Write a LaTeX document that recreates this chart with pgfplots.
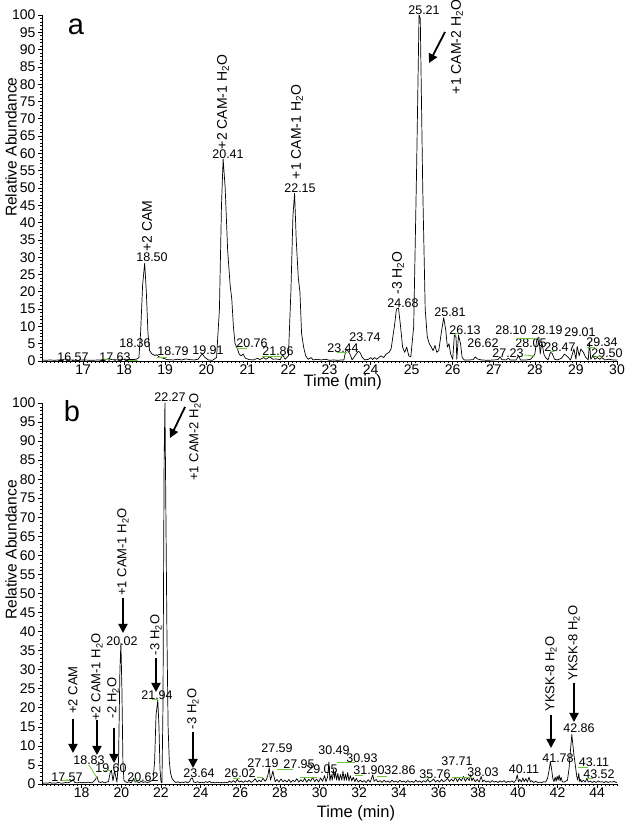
\documentclass[border=0pt]{standalone}
\usepackage{fontspec}
\setmainfont{Liberation Sans}
\usepackage{pgfplots}
\pgfplotsset{compat=1.18}
\usetikzlibrary{arrows.meta}
\definecolor{lblgreen}{RGB}{110,200,60}
\newcommand{\fs}[1]{\fontsize{#1}{#1}\selectfont}
\newcommand{\HH}{H\textsubscript{2}O}
\begin{document}
\begin{tikzpicture}
\useasboundingbox (0,0) rectangle (625pt,821pt);
\pgfplotsset{
  chrom/.style={
    scale only axis, width=575pt, anchor=south west,
    axis x line=bottom, axis y line=left,
    axis line style={-, line width=0.7pt},
    tick align=outside, major tick length=4pt, minor tick length=2pt,
    every tick/.style={line width=0.6pt, black},
    ymin=0, ymax=100, ytick={0,5,...,100}, minor ytick={0,1,...,100},
    every tick label/.append style={font=\fs{14}},
    xticklabel style={yshift=3.5pt},
    yticklabel style={xshift=1pt},
    /pgf/number format/assume math mode=true,
    clip=false,
    ylabel={Relative Abundance},
    xlabel={Time (min)},
  }
}
% ---------------- panel a ----------------
\begin{axis}[chrom, at={(42pt,460pt)}, height=346pt,
  xmin=16, xmax=30, xtick={17,...,30}, minor xtick={16,16.1,...,30},
  xlabel style={at={(axis description cs:0.523,-0.062)}, anchor=center, font=\fs{16.5}},
  ylabel style={at={(axis description cs:-0.054,0.618)}, anchor=center, font=\fs{15.6}}]
\addplot[black, line width=0.7pt, line join=round] coordinates {
(16.00,0.3)(16.10,0.2)(16.20,0.3)(16.30,0.2)(16.40,0.3)(16.50,0.4)(16.57,0.6)(16.65,0.3)
(16.80,0.2)(17.00,0.3)(17.20,0.2)(17.40,0.3)(17.55,0.4)(17.63,0.7)(17.70,0.4)(17.85,0.3)
(18.00,0.5)(18.20,0.4)(18.30,0.5)(18.36,1.0)(18.40,8)(18.45,22)(18.50,28.3)(18.54,20)
(18.58,8)(18.62,3)(18.68,2)(18.75,1.6)(18.79,1.8)(18.85,1.2)(18.95,0.8)(19.05,0.4)
(19.20,0.3)(19.30,0.5)(19.40,0.3)(19.50,0.6)(19.60,0.4)(19.70,0.3)(19.80,0.5)(19.88,1.8)
(19.91,1.9)(19.97,1.0)(20.05,0.3)(20.15,0.2)(20.25,1.0)(20.32,15)(20.37,45)(20.41,58.4)
(20.46,50)(20.52,32)(20.58,22)(20.62,18)(20.66,10)(20.70,5)(20.76,3.5)(20.80,2.0)
(20.85,1.5)(20.90,2.0)(20.95,0.8)(21.05,0.4)(21.15,0.3)(21.25,0.8)(21.30,0.4)(21.40,1.0)
(21.45,0.5)(21.55,1.2)(21.62,0.5)(21.70,0.6)(21.80,0.4)(21.86,1.8)(21.92,0.5)(22.00,1.5)
(22.06,20)(22.11,42)(22.15,48.5)(22.19,35)(22.24,24)(22.28,20)(22.32,8)(22.37,4)
(22.42,1.5)(22.48,0.5)(22.55,1.0)(22.60,0.3)(22.70,0.5)(22.80,0.3)(22.90,0.5)(23.00,0.2)
(23.10,0.3)(23.20,0.2)(23.30,0.3)(23.35,0.3)(23.40,3.2)(23.44,3.0)(23.50,2.0)(23.55,0.3)
(23.62,1.5)(23.70,2.8)(23.74,2.5)(23.80,1.0)(23.86,0.3)(23.95,0.5)(24.00,1.0)(24.05,0.4)
(24.10,1.0)(24.15,0.5)(24.25,1.5)(24.32,1.0)(24.38,2.0)(24.45,2.5)(24.50,3.5)(24.58,10)
(24.63,15)(24.68,15.3)(24.73,10)(24.78,4)(24.83,2.5)(24.88,4)(24.93,1.5)(24.98,1.2)
(25.05,10)(25.12,55)(25.18,100)(25.21,99)(25.27,50)(25.33,15)(25.38,7)(25.43,5)
(25.48,4)(25.52,3)(25.57,4.5)(25.61,2.5)(25.66,3)(25.72,8)(25.78,12.5)(25.83,9)
(25.87,4)(25.91,5)(25.95,2)(26.00,0.5)(26.04,7.5)(26.08,7)(26.10,0.5)(26.14,7.5)
(26.19,5)(26.23,1)(26.28,0.3)(26.40,0.3)(26.50,0.4)(26.55,1.2)(26.60,0.6)(26.70,0.3)
(26.85,0.2)(27.00,0.3)(27.10,0.4)(27.15,1.2)(27.20,0.4)(27.30,0.3)(27.35,0.8)(27.40,0.3)
(27.55,0.3)(27.60,1.5)(27.65,0.3)(27.80,0.3)(27.90,0.5)(28.00,2.0)(28.05,6.5)(28.10,6.8)
(28.13,2)(28.17,5.5)(28.22,2)(28.26,1.0)(28.32,0.3)(28.38,2.5)(28.42,2.2)(28.48,0.5)
(28.55,0.3)(28.65,0.8)(28.72,2.0)(28.80,1.2)(28.87,0.3)(28.95,3.5)(29.00,0.5)(29.03,4.2)
(29.08,1.5)(29.12,3.5)(29.18,2.5)(29.24,1.0)(29.30,0.3)(29.33,5.5)(29.36,0.5)(29.42,1.5)
(29.46,0.5)(29.52,1.0)(29.58,0.5)(29.63,1.0)(29.70,0.3)(29.80,0.5)(29.90,0.3)(30.00,0.3)
};
\end{axis}
% ---------------- panel b ----------------
\begin{axis}[chrom, at={(42pt,37pt)}, height=381pt,
  xmin=16, xmax=45, xtick={18,20,...,44}, minor xtick={16,16.2,...,45},
  xlabel style={at={(axis description cs:0.546,-0.078)}, anchor=center, font=\fs{16.5}},
  ylabel style={at={(axis description cs:-0.054,0.614)}, anchor=center, font=\fs{15.6}}]
\addplot[black, line width=0.7pt, line join=round] coordinates {
(16.0,0.3)(16.1,0.2)(16.2,0.3)(16.3,0.2)(16.4,0.4)(16.5,0.2)(16.6,0.3)(16.7,0.2)(16.8,0.4)(16.9,0.3)
(17.0,0.2)(17.1,0.3)(17.2,0.4)(17.3,0.3)(17.4,0.5)(17.5,0.8)(17.57,1.2)(17.65,0.4)(17.8,0.3)(17.9,0.5)
(18.0,0.3)(18.1,0.4)(18.2,0.3)(18.3,0.5)(18.4,0.4)(18.5,0.3)(18.6,0.6)(18.7,1.2)(18.77,2.0)(18.85,0.6)
(18.95,0.4)(19.05,0.6)(19.15,0.3)(19.25,0.5)(19.35,0.6)(19.44,3.0)(19.50,3.6)(19.58,0.8)(19.66,3.5)(19.72,2.0)
(19.78,0.5)(19.86,6)(19.93,30)(19.98,37)(20.03,25)(20.08,6)(20.13,1.0)(20.2,0.6)(20.3,0.4)(20.4,0.6)
(20.5,0.3)(20.58,1.0)(20.62,1.5)(20.7,0.5)(20.8,0.6)(20.9,0.3)(21.0,0.8)(21.1,0.4)(21.2,0.6)(21.3,0.4)
(21.4,0.5)(21.5,0.8)(21.6,1.0)(21.68,6)(21.75,18)(21.84,22)(21.90,15)(21.95,4)(22.00,0.6)(22.05,0.3)
(22.10,20)(22.16,85)(22.20,100)(22.25,70)(22.30,40)(22.36,15)(22.42,6)(22.48,3)(22.55,1.5)(22.65,0.8)
(22.75,0.4)(22.85,0.6)(22.95,0.3)(23.05,0.5)(23.15,0.4)(23.25,0.6)(23.35,0.3)(23.45,0.7)(23.52,1.5)(23.58,1.6)
(23.65,0.5)(23.75,0.4)(23.85,0.6)(23.95,0.3)(24.05,0.5)(24.15,0.3)(24.25,0.6)(24.35,0.4)(24.45,0.7)(24.55,0.3)
(24.65,0.4)(24.75,0.3)(24.85,0.5)(24.95,0.3)(25.05,0.4)(25.15,0.3)(25.25,0.5)(25.35,0.3)(25.45,0.8)(25.55,0.4)
(25.65,0.9)(25.75,0.4)(25.85,1.2)(25.95,0.5)(26.05,0.8)(26.15,0.4)(26.25,0.9)(26.35,0.5)(26.45,1.0)(26.55,0.4)
(26.65,0.8)(26.75,1.4)(26.85,0.5)(26.95,1.0)(27.05,0.6)(27.15,1.5)(27.25,0.7)(27.32,1.2)(27.40,2.5)(27.46,4.3)
(27.52,1.0)(27.58,2.0)(27.64,3.4)(27.70,2.0)(27.76,0.6)(27.85,1.2)(27.95,0.5)(28.05,1.3)(28.15,0.6)(28.25,1.0)
(28.35,0.5)(28.45,1.2)(28.55,0.4)(28.65,1.0)(28.75,0.6)(28.85,1.4)(28.95,0.5)(29.05,1.1)(29.15,0.6)(29.25,1.5)
(29.35,0.5)(29.45,1.2)(29.55,0.7)(29.65,1.8)(29.75,0.6)(29.85,1.3)(29.95,0.5)(30.05,1.6)(30.15,0.7)(30.25,2.2)
(30.32,0.6)(30.40,1.8)(30.47,5.8)(30.52,0.8)(30.58,2.5)(30.64,1.0)(30.70,3.8)(30.75,1.5)(30.80,3.2)(30.86,1.0)
(30.92,2.8)(30.98,0.8)(31.05,2.5)(31.12,1.0)(31.18,3.4)(31.24,0.9)(31.30,2.6)(31.36,1.0)(31.42,3.0)(31.48,0.8)
(31.55,2.2)(31.62,0.8)(31.70,1.8)(31.78,0.6)(31.85,1.5)(31.95,0.5)(32.05,1.0)(32.15,0.5)(32.25,0.9)(32.35,0.4)
(32.45,1.1)(32.55,0.5)(32.62,1.5)(32.68,2.4)(32.75,0.7)(32.85,1.2)(32.95,0.5)(33.05,0.9)(33.15,0.4)(33.25,1.0)
(33.35,0.5)(33.45,0.8)(33.55,0.4)(33.65,1.0)(33.75,0.5)(33.85,0.8)(33.95,0.4)(34.05,1.0)(34.15,0.5)(34.25,0.8)
(34.35,0.4)(34.45,0.9)(34.55,0.5)(34.65,0.7)(34.75,0.4)(34.85,1.0)(34.95,0.5)(35.05,0.8)(35.15,0.4)(35.25,0.9)
(35.35,0.5)(35.45,1.2)(35.55,0.5)(35.65,0.8)(35.75,1.3)(35.85,0.5)(35.95,1.0)(36.05,0.5)(36.15,1.2)(36.25,0.6)
(36.35,0.9)(36.45,1.5)(36.55,0.6)(36.65,1.3)(36.75,0.7)(36.85,1.8)(36.95,0.6)(37.05,1.5)(37.15,0.8)(37.25,2.0)
(37.35,0.7)(37.45,1.6)(37.55,0.9)(37.62,2.4)(37.68,0.8)(37.75,1.6)(37.85,0.6)(37.95,1.2)(38.05,0.5)(38.15,2.0)
(38.22,0.6)(38.30,1.0)(38.40,0.5)(38.50,0.8)(38.60,0.4)(38.70,0.9)(38.80,0.5)(38.90,0.7)(39.00,0.4)(39.10,0.8)
(39.20,0.5)(39.30,0.9)(39.40,0.4)(39.50,0.7)(39.60,0.5)(39.70,0.8)(39.80,0.4)(39.90,1.0)(39.97,2.4)(40.03,0.6)
(40.10,1.2)(40.18,0.5)(40.25,1.6)(40.32,0.6)(40.40,1.4)(40.48,0.5)(40.56,1.8)(40.63,0.6)(40.70,0.9)(40.80,0.4)
(40.90,0.7)(41.00,0.4)(41.10,0.5)(41.20,0.4)(41.30,0.6)(41.40,0.5)(41.50,1.5)(41.57,3.5)(41.64,5.8)(41.70,4.0)
(41.76,1.5)(41.82,0.6)(41.88,1.8)(41.93,0.7)(41.98,2.0)(42.03,1.0)(42.08,2.4)(42.13,0.8)(42.18,1.8)(42.24,0.6)
(42.32,0.5)(42.40,0.7)(42.50,1.0)(42.58,4)(42.64,8)(42.72,13)(42.78,10)(42.82,8)(42.87,6)(42.92,4)
(42.97,2.0)(43.02,1.0)(43.07,2.8)(43.12,0.6)(43.17,1.2)(43.22,0.5)(43.30,1.0)(43.40,0.5)(43.48,1.5)(43.55,0.5)
(43.65,0.8)(43.75,0.4)(43.85,0.7)(43.95,0.4)(44.05,0.8)(44.15,0.5)(44.25,0.6)(44.35,0.4)(44.45,0.7)(44.55,0.4)
(44.65,0.6)(44.75,0.5)(44.85,0.7)(44.95,0.4)(45.00,0.5)
};
\end{axis}
% ---------------- annotations (pixel frame, y down) ----------------
\begin{scope}[shift={(0pt,821pt)}, x=1pt, y=-1pt]
\tikzset{pk/.style={font=\fs{12.5}, inner sep=0pt},
         rt/.style={rotate=90, inner sep=0pt, font=\fs{14}},
         rtb/.style={rotate=90, inner sep=0pt, font=\fs{13}},
         gl/.style={lblgreen, line width=0.8pt},
         ar/.style={line width=1.8pt, -{Triangle[length=9pt,width=9pt]}}}
% panel letters
\node[font=\fs{29}, anchor=base, inner sep=0pt] at (76,35) {a};
\node[font=\fs{29}, anchor=base, inner sep=0pt] at (72,422) {b};
% panel a labels
\node[pk] at (73,357) {16.57};
\node[pk] at (115,357) {17.63};
\node[pk] at (135,343) {18.36};
\node[pk] at (152,257) {18.50};
\node[pk] at (173,351) {18.79};
\node[pk] at (208,350) {19.91};
\node[pk] at (228,154) {20.41};
\node[pk] at (252,343) {20.76};
\node[pk] at (278,351) {21.86};
\node[pk] at (300,188) {22.15};
\node[pk] at (343,348) {23.44};
\node[pk] at (365,337) {23.74};
\node[pk] at (403,303) {24.68};
\node[pk] at (424,10) {25.21};
\node[pk] at (450,312) {25.81};
\node[pk] at (465,330) {26.13};
\node[pk] at (483,343) {26.62};
\node[pk] at (508,353) {27.23};
\node[pk] at (511,330) {28.10};
\node[pk] at (531,343) {28.05};
\node[pk] at (547,330) {28.19};
\node[pk] at (560,347) {28.47};
\node[pk] at (580,332) {29.01};
\node[pk] at (602,342) {29.34};
\node[pk] at (607,353) {29.50};
\node[rt] at (147,226) {+2 CAM};
\node[rt] at (223,102) {+2 CAM-1 \HH};
\node[rt] at (297,132) {+1 CAM-1 \HH};
\node[rt] at (398,273) {-3 \HH};
\node[rt] at (457,47) {+1 CAM-2 \HH};
\draw[ar] (445,32) -- (429,63);
% panel a green leaders
\draw[gl] (104,359) -- (110,360);
\draw[gl] (128,360) -- (138,360);
\draw[gl] (157,357) -- (167,357);
\draw[gl] (237,348) -- (247,348);
\draw[gl] (262,356) -- (282,356);
\draw[gl] (337,352) -- (347,352);
\draw[gl] (455,335) -- (459,332);
\draw[gl] (517,338) -- (537,338);
\draw[gl] (524,355) -- (535,356);
\draw[gl] (550,352) -- (555,351);
\draw[gl] (587,347) -- (595,347);
\draw[gl] (593,357) -- (602,356);
% panel b labels
\node[pk] at (170,397) {22.27};
\node[pk] at (122,641) {20.02};
\node[pk] at (157,695) {21.94};
\node[pk] at (89,760) {18.83};
\node[pk] at (111,768) {19.60};
\node[pk] at (67,777) {17.57};
\node[pk] at (143,777) {20.62};
\node[pk] at (199,773) {23.64};
\node[pk] at (240,773) {26.02};
\node[pk] at (263,763) {27.19};
\node[pk] at (277,748) {27.59};
\node[pk] at (299,764) {27.95};
\node[pk] at (322,769) {29.05};
\node[pk] at (334,750) {30.49};
\node[pk] at (362,758) {30.93};
\node[pk] at (369,770) {31.90};
\node[pk] at (400,770) {32.86};
\node[pk] at (435,774) {35.76};
\node[pk] at (457,761) {37.71};
\node[pk] at (483,772) {38.03};
\node[pk] at (524,769) {40.11};
\node[pk] at (558,758) {41.78};
\node[pk] at (579,728) {42.86};
\node[pk] at (594,762) {43.11};
\node[pk] at (599,774) {43.52};
\node[rtb] at (195,437) {+1 CAM-2 \HH};
\draw[ar] (185,407) -- (170,438);
\node[rtb] at (123,552) {+1 CAM-1 \HH};
\draw[ar] (123,598) -- (123,633);
\node[rtb] at (156,635) {-3 \HH};
\draw[ar] (156,658) -- (156,692);
\node[rtb] at (73,690) {+2 CAM};
\draw[ar] (73,719) -- (73,753);
\node[rtb] at (97,677) {+2 CAM-1 \HH};
\draw[ar] (97,720) -- (97,755);
\node[rtb] at (113,698) {-2 \HH};
\draw[ar] (114,728) -- (114,763);
\node[rtb] at (193,709) {-3 \HH};
\draw[ar] (193,732) -- (193,768);
\node[rtb] at (551,674) {YKSK-8 \HH};
\draw[ar] (551,715) -- (551,748);
\node[rtb] at (574,643) {YKSK-8 \HH};
\draw[ar] (574,683) -- (574,722);
% panel b green leaders
\draw[gl] (62,780) -- (70,780);
\draw[gl] (89,765) -- (97,778);
\draw[gl] (105,770) -- (110,770);
\draw[gl] (133,781) -- (137,778);
\draw[gl] (152,699) -- (158,699);
\draw[gl] (233,778) -- (240,778);
\draw[gl] (257,777) -- (263,777);
\draw[gl] (277,769) -- (293,769);
\draw[gl] (300,777) -- (317,777);
\draw[gl] (337,762) -- (355,762);
\draw[gl] (355,775) -- (363,775);
\draw[gl] (377,776) -- (387,776);
\draw[gl] (425,777) -- (429,779);
\draw[gl] (452,777) -- (472,777);
\draw[gl] (578,767) -- (588,767);
\draw[gl] (587,778) -- (593,778);
\end{scope}
\end{tikzpicture}
\end{document}
